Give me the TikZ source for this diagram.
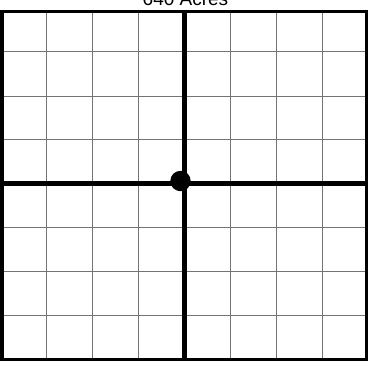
\documentclass[tikz,border=0pt]{standalone}
\usepackage{fontspec}
\setmainfont{Liberation Sans}
\begin{document}
\begin{tikzpicture}[x=1pt,y=-1pt,
  thinline/.style={draw=black!55,line width=1pt},
  thickline/.style={draw=black,line width=4.8pt},
  border/.style={draw=black,line width=3pt}]
\useasboundingbox (0,0) rectangle (370,365);
% thin grid lines
\foreach \x in {46.7,92.7,138.7,230,276.7,322.7}
  \draw[thinline] (\x,11) -- (\x,359);
\foreach \y in {51.7,96,139.3,227.7,271.7,315}
  \draw[thinline] (2,\y) -- (366.5,\y);
% center cross
\draw[thickline] (184.3,11) -- (184.3,359);
\draw[thickline] (2,183.5) -- (366.5,183.5);
% border
\draw[border] (2,11) rectangle (366.5,359);
% dot
\fill (180.5,181) circle (10.2);
\node[font=\fontsize{19}{19}\selectfont,anchor=base,inner sep=0pt] (title) at (185.5,5) {640 Acres};
\end{tikzpicture}
\end{document}
